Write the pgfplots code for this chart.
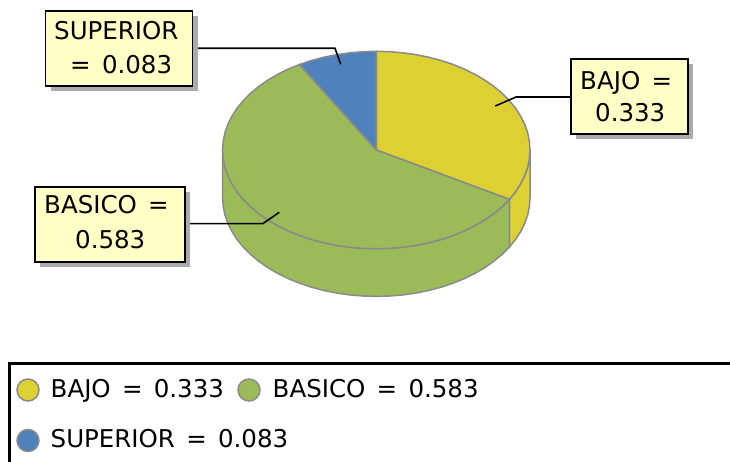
\documentclass[border=0pt]{standalone}
\usepackage{pgfplots}
\pgfplotsset{compat=1.18}
\usepackage{fontspec}
\setmainfont[WordSpace=1.45]{DejaVu Sans}
\definecolor{cy}{HTML}{DDD033}
\definecolor{cg}{HTML}{9BBB59}
\definecolor{cb}{HTML}{4F81BD}
\definecolor{ce}{HTML}{8A8A8A}
\definecolor{cbox}{HTML}{FFFFC6}
\definecolor{cs}{HTML}{ABABAB}
\newcommand{\tx}[3]{\node[anchor=base west,inner sep=0pt,font=\fontsize{24.5pt}{26pt}\selectfont] at (axis cs:#1,#2) {#3};}
\newcommand{\bx}[4]{%
\fill[cs] (axis cs:#1+5,#3+5) rectangle (axis cs:#2+5,#4+5);
\filldraw[fill=cbox,draw=black,line width=1.5pt] (axis cs:#1,#3) rectangle (axis cs:#2,#4);}
\begin{document}
\begin{tikzpicture}
\useasboundingbox (0,0) rectangle (730pt,462pt);
\begin{axis}[at={(0,0)},anchor=south west,scale only axis,width=730pt,height=462pt,
  xmin=0,xmax=730,ymin=0,ymax=462,y dir=reverse,hide axis,clip=true]
% side wall, BAJO
\addplot[fill=cy,draw=ce,line width=1.5pt] coordinates {
(530,150)(529.4,158.6)(527.7,167.14)(524.8,175.55)(520.7,183.76)(515.6,191.71)(509.4,199.35)
(509.4,247.05)(515.6,239.41)(520.7,231.46)(524.8,223.25)(527.7,214.84)(529.4,206.3)(530,197.7)} -- cycle;
% side wall, BASICO
\addplot[fill=cg,draw=ce,line width=1.5pt] coordinates {
(509.4,199.35)(502.2,206.61)(494,213.44)(485,219.79)(475.1,225.61)(464.5,230.85)(453.2,235.48)(441.3,239.45)(428.9,242.75)(416.1,245.34)(403,247.2)(389.7,248.32)(376.3,248.7)(362.9,248.32)(349.6,247.2)(336.5,245.34)(323.7,242.75)(311.3,239.45)(299.5,235.48)(288.1,230.85)(277.5,225.61)(267.6,219.79)(258.6,213.44)(250.4,206.61)(243.2,199.35)(237,191.71)(231.9,183.76)(227.8,175.55)(224.9,167.14)(223.2,158.6)(222.6,150)
(222.6,197.7)(223.2,206.3)(224.9,214.84)(227.8,223.25)(231.9,231.46)(237,239.41)(243.2,247.05)(250.4,254.31)(258.6,261.14)(267.6,267.49)(277.5,273.31)(288.1,278.55)(299.5,283.18)(311.3,287.15)(323.7,290.45)(336.5,293.04)(349.6,294.9)(362.9,296.02)(376.3,296.4)(389.7,296.02)(403,294.9)(416.1,293.04)(428.9,290.45)(441.3,287.15)(453.2,283.18)(464.5,278.55)(475.1,273.31)(485,267.49)(494,261.14)(502.2,254.31)(509.4,247.05)} -- cycle;
% top, BAJO
\addplot[fill=cy,draw=ce,line width=1.5pt] coordinates {
(376.3,150)(376.3,51.3)(389.7,51.68)(403,52.8)(416.1,54.66)(428.9,57.25)(441.3,60.55)(453.2,64.52)(464.5,69.15)(475.1,74.39)(485,80.21)(494,86.56)(502.2,93.39)(509.4,100.65)(515.6,108.29)(520.7,116.24)(524.8,124.45)(527.7,132.86)(529.4,141.4)(530,150)(529.4,158.6)(527.7,167.14)(524.8,175.55)(520.7,183.76)(515.6,191.71)(509.4,199.35)} -- cycle;
% top, BASICO
\addplot[fill=cg,draw=ce,line width=1.5pt] coordinates {
(376.3,150)(509.4,199.35)(502.2,206.61)(494,213.44)(485,219.79)(475.1,225.61)(464.5,230.85)(453.2,235.48)(441.3,239.45)(428.9,242.75)(416.1,245.34)(403,247.2)(389.7,248.32)(376.3,248.7)(362.9,248.32)(349.6,247.2)(336.5,245.34)(323.7,242.75)(311.3,239.45)(299.5,235.48)(288.1,230.85)(277.5,225.61)(267.6,219.79)(258.6,213.44)(250.4,206.61)(243.2,199.35)(237,191.71)(231.9,183.76)(227.8,175.55)(224.9,167.14)(223.2,158.6)(222.6,150)(223.2,141.4)(224.9,132.86)(227.8,124.45)(231.9,116.24)(237,108.29)(243.2,100.65)(250.4,93.39)(258.6,86.56)(267.6,80.21)(277.5,74.39)(288.1,69.15)(299.5,64.52)} -- cycle;
% top, SUPERIOR
\addplot[fill=cb,draw=ce,line width=1.5pt] coordinates {
(376.3,150)(299.5,64.52)(311.3,60.55)(323.7,57.25)(336.5,54.66)(349.6,52.8)(362.9,51.68)(376.3,51.3)} -- cycle;
% leader lines
\addplot[black,line width=1.6pt] coordinates {(198,48.3)(335,48.3)(340.7,64.3)};
\addplot[black,line width=1.6pt] coordinates {(570,97)(516,97)(495.3,106)};
\addplot[black,line width=1.6pt] coordinates {(190,223.7)(262.7,223.7)(279.3,212.3)};
% callouts
\bx{45.7}{192.7}{11}{86}
\tx{54}{40}{SUPERIOR}
\tx{70}{74}{= 0.083}
\bx{571}{688}{59}{134}
\tx{580}{90}{BAJO =}
\tx{595}{122}{0.333}
\bx{35}{185}{187}{262}
\tx{44}{214}{BASICO =}
\tx{75}{248}{0.583}
% legend frame
\addplot[black,line width=3.5pt] coordinates {(730,363.5)(9.5,363.5)(9.5,462)};
\addplot[only marks,mark=*,mark size=11pt,mark options={fill=cy,draw=ce,line width=1.5pt}] coordinates {(28,390)};
\addplot[only marks,mark=*,mark size=11pt,mark options={fill=cg,draw=ce,line width=1.5pt}] coordinates {(249,390)};
\addplot[only marks,mark=*,mark size=11pt,mark options={fill=cb,draw=ce,line width=1.5pt}] coordinates {(28,440.5)};
\tx{50.5}{397}{BAJO = 0.333}
\tx{272.5}{397}{BASICO = 0.583}
\tx{50.5}{447}{SUPERIOR = 0.083}
\end{axis}
\end{tikzpicture}
\end{document}
